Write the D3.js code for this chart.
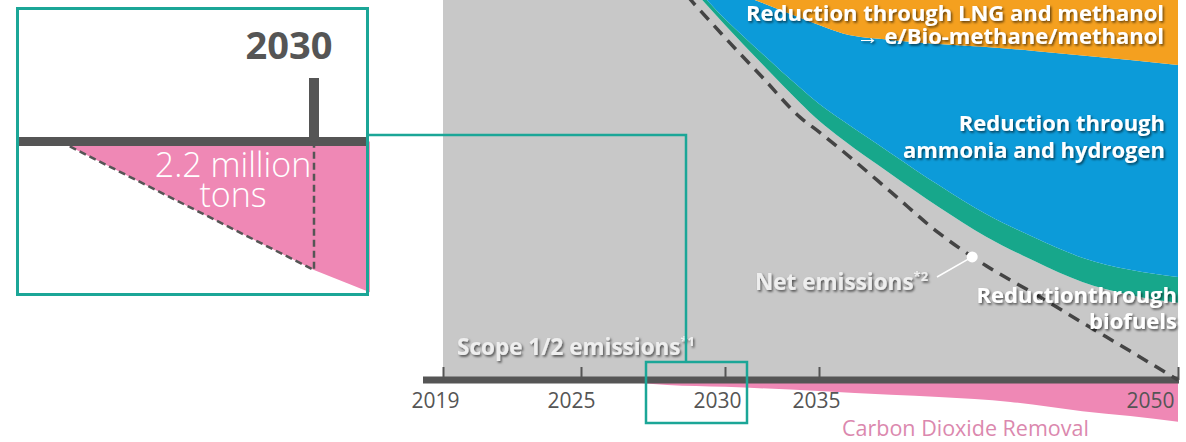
<!DOCTYPE html>
<html><head><meta charset="utf-8">
<script src="https://cdn.jsdelivr.net/npm/d3@7"></script>
<style>body{margin:0;background:#fff;} svg{display:block;font-family:"Open Sans",sans-serif;}</style>
</head><body><svg id="c" width="1186" height="442"></svg>
<script>
// ---------- data (arbitrary index units, axis = 0) ----------
const years = [2019,2025,2028,2029,2030,2032,2034,2035,2036,2038,2040,2042,2044,2046,2048,2050];
const scope12 = [120,116,108,101.6,93.4,83.0,72.9,68.2,63.2,54.2,45.5,37.6,31.3,25.8,22.4,20.3];
const biofuels = [0.5,0.8,1.0,1.2,1.6,2.8,4.0,4.5,5.0,5.5,5.8,6.0,6.2,6.4,6.6,6.8];
const ammoniaHydrogen = [0.5,1.2,1.0,3.2,8.0,13.4,18.4,20.7,23.0,29.8,37.1,44.0,49.1,53.2,55.2,55.8];
const lngMethanol = [4,7,15,19,22,25.8,29.7,31.6,33.8,35.5,36.6,37.4,38.4,39.6,40.8,42.1];
const netYears = [2019,2025,2028,2029,2030,2032,2034,2035,2036,2038,2040,2042,2044,2046,2048,2050];
const netEmissions = [119.5,114,106.5,98.4,90.1,79.6,69.1,65.3,60.2,49.5,38.7,30.0,22.7,15.1,7.6,0];
const cdrYears = [2026,2028,2030,2035,2038,2040,2043,2046,2048,2050];
const cdrValues = [0,-1.3,-1.8,-2.9,-3.9,-4.5,-5.8,-8.2,-9.5,-11];
const tickYears = [2019,2025,2030,2035,2050];
const tickLabels = ["2019","2025","2030","2035","2050"];
const netMarker = {year: 2041.4, value: 32.4};
// inset (zoom around 2030): CDR in million tons
const insetYears = [2027.5, 2030, 2030.55];
const insetCdr = [0, 2.2, 2.58];

// ---------- layout ----------
const C = {gray:'#c8c8c8', bio:'#17a78b', amm:'#0c9bd9', lng:'#f4a01f', pink:'#ef88b5', axis:'#555555', teal:'#1ba697', pinkText:'#db88ae'};
const svg = d3.select('#c');
const defs = svg.append('defs');
const f = defs.append('filter').attr('id','sh').attr('x','-10%').attr('y','-30%').attr('width','120%').attr('height','160%');
f.append('feDropShadow').attr('dx',1.4).attr('dy',1.7).attr('stdDeviation',0.9).attr('flood-color','#000').attr('flood-opacity',0.6);

const x = d3.scaleLinear().domain(tickYears).range([443,581,725,819,1178]);
const y = d3.scaleLinear().domain([0,100]).range([380,0]);

const table = years.map((yr,i)=>({year:yr, scope:scope12[i], bio:biofuels[i], amm:ammoniaHydrogen[i], lng:lngMethanol[i]}));
const series = d3.stack().keys(['scope','bio','amm','lng'])(table);
const fillOf = {scope:C.gray, bio:C.bio, amm:C.amm, lng:C.lng};
const area = d3.area().x(d=>x(d.data.year)).y0(d=>y(d[0])).y1(d=>y(d[1])).curve(d3.curveMonotoneX);

const main = svg.append('g');
main.selectAll('path.layer').data(series).join('path')
  .attr('class','layer').attr('d',area).attr('fill',d=>fillOf[d.key]);

// CDR area below axis
const cdrData = cdrYears.map((yr,i)=>({year:yr, v:cdrValues[i]}));
main.append('path').datum(cdrData)
  .attr('d', d3.area().x(d=>x(d.year)).y0(y(0)).y1(d=>y(d.v)).curve(d3.curveMonotoneX))
  .attr('fill', C.pink);

// axis
const axisG = main.append('g').attr('transform',`translate(0,${y(0)})`);
axisG.append('line').attr('x1',423).attr('x2',1179).attr('y1',0).attr('y2',0)
  .attr('stroke',C.axis).attr('stroke-width',7);
const ax = d3.axisBottom(x).tickValues(tickYears).tickSizeInner(-13).tickSizeOuter(0)
  .tickFormat((d,i)=>tickLabels[i]);
const axG = axisG.append('g').call(ax);
axG.select('.domain').remove();
axG.selectAll('.tick line').attr('stroke',C.axis).attr('stroke-width',2);
const labelShift = {2019:-8, 2025:-10, 2030:-8, 2035:-3, 2050:-28};
axG.selectAll('.tick text').attr('y',28).attr('dy',0).attr('dx',d=>labelShift[d])
  .attr('fill',C.axis).attr('font-size',21).attr('font-family','"Open Sans",sans-serif');

// net emissions dashed line
const netData = netYears.map((yr,i)=>({year:yr, v:netEmissions[i]}));
main.append('path').datum(netData)
  .attr('d', d3.line().x(d=>x(d.year)).y(d=>y(d.v)).curve(d3.curveMonotoneX))
  .attr('fill','none').attr('stroke','#444').attr('stroke-width',3.5).attr('stroke-dasharray','12,8');

// marker on net line
const mx = x(netMarker.year), my = y(netMarker.value);
main.append('line').attr('x1',mx).attr('y1',my).attr('x2',937).attr('y2',277)
  .attr('stroke','#fff').attr('stroke-width',1.6);
main.append('circle').attr('cx',mx).attr('cy',my).attr('r',5.5).attr('fill','#fff');

// labels
function label(txt, px, py, opts={}) {
  const t = main.append('text').attr('x',px).attr('y',py)
    .attr('text-anchor',opts.anchor||'end')
    .attr('font-size',opts.size||22).attr('font-weight',opts.weight||700)
    .attr('fill',opts.fill||'#fff');
  if (opts.shadow!==false) t.attr('filter','url(#sh)');
  t.append('tspan').text(txt);
  if (opts.sup) t.append('tspan').attr('font-size',13).attr('dy',-9).text(opts.sup);
  return t;
}
label('Reduction through LNG and methanol', 1164, 21);
label('→ e/Bio-methane/methanol', 1164, 44);
label('Reduction through', 1165, 131);
label('ammonia and hydrogen', 1165, 158);
label('Reductionthrough', 1177, 303);
label('biofuels', 1177, 329);
label('Net emissions', 755, 290, {anchor:'start', fill:'#eeeeee', sup:'*2', size:22.5});
label('Scope 1/2 emissions', 457, 355, {anchor:'start', fill:'#eeeeee', sup:'*1', size:22.5});
label('Carbon Dioxide Removal', 842, 436, {anchor:'start', fill:C.pinkText, weight:400, size:21.5, shadow:false});

// connector + small box
svg.append('path').attr('d','M368,135H686V362').attr('fill','none').attr('stroke',C.teal).attr('stroke-width',2.5);
svg.append('rect').attr('x',646).attr('y',362).attr('width',101).attr('height',61)
  .attr('fill','none').attr('stroke',C.teal).attr('stroke-width',2.5);

// ---------- inset ----------
const inset = svg.append('g');
inset.append('rect').attr('x',17).attr('y',8).attr('width',351).attr('height',287).attr('fill','#fff');
const ix = d3.scaleLinear().domain([2027.5,2030]).range([60,314]);
const iy = d3.scaleLinear().domain([0,2.2]).range([141.5,270]);
const insetData = insetYears.map((yr,i)=>({year:yr, v:insetCdr[i]}));
inset.append('path').datum(insetData)
  .attr('d', d3.area().x(d=>ix(d.year)).y0(iy(0)).y1(d=>iy(d.v)))
  .attr('fill',C.pink);
inset.append('path').datum(insetData.slice(0,2))
  .attr('d', d=>d3.line().x(p=>ix(p.year)).y(p=>iy(p.v))(d) + `V${iy(0)}`)
  .attr('fill','none').attr('stroke','#555').attr('stroke-width',2.5).attr('stroke-dasharray','7,4');
inset.append('line').attr('x1',18).attr('x2',367).attr('y1',iy(0)).attr('y2',iy(0))
  .attr('stroke',C.axis).attr('stroke-width',9);
inset.append('line').attr('x1',ix(2030)).attr('x2',ix(2030)).attr('y1',78).attr('y2',iy(0))
  .attr('stroke',C.axis).attr('stroke-width',10);
inset.append('text').attr('x',ix(2030)-25).attr('y',59).attr('text-anchor','middle')
  .attr('font-size',38).attr('font-weight',700).attr('fill',C.axis).text(tickLabels[2]);
inset.append('text').attr('x',233).attr('y',177).attr('text-anchor','middle')
  .attr('font-size',34).attr('font-weight',300).attr('fill','#fff').text('2.2 million');
inset.append('text').attr('x',233).attr('y',207).attr('text-anchor','middle')
  .attr('font-size',34).attr('font-weight',300).attr('fill','#fff').text('tons');
inset.append('rect').attr('x',17.5).attr('y',8.5).attr('width',350).attr('height',286)
  .attr('fill','none').attr('stroke',C.teal).attr('stroke-width',3);
</script></body></html>
